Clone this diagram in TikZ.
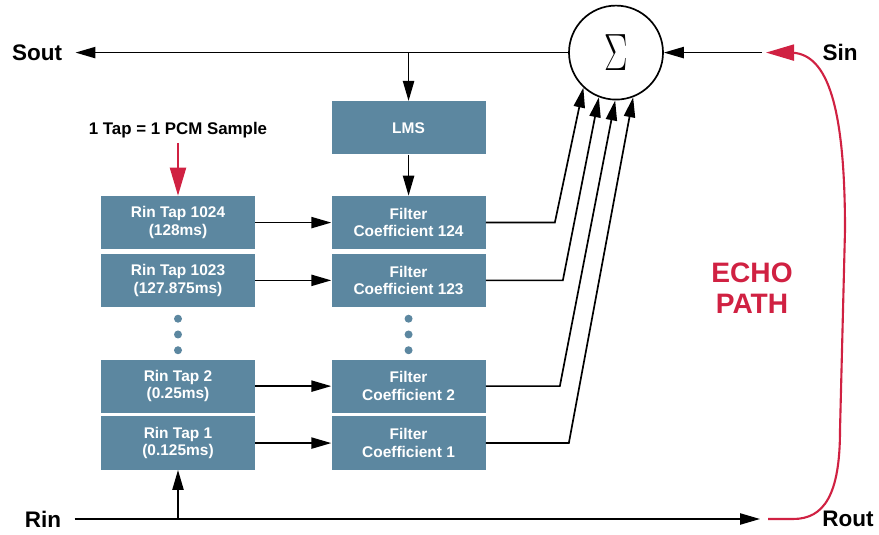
\documentclass[tikz,border=0pt]{standalone}
\usepackage{fontspec}
\setmainfont{Liberation Sans}
\usetikzlibrary{shapes,arrows.meta,positioning}
\definecolor{tapblue}{RGB}{92,135,160}
\definecolor{echored}{RGB}{208,33,66}

\begin{document}
\begin{tikzpicture}[node distance=1.5cm, auto]
% Define styles
\tikzstyle{tapbox} = [rectangle, minimum width=3.85cm, minimum height=1.33cm, inner sep=0pt, align=center, fill=tapblue, text=white, font=\fontsize{11}{12.5}\selectfont\bfseries]
\tikzstyle{port} = [font=\fontsize{16}{18}\selectfont\bfseries, inner xsep=0.33cm]
\tikzstyle{tapdot} = [circle, fill=tapblue, minimum size=0.2cm, inner sep=0pt]
\tikzstyle{arrow} = [line width=1.2pt, -{Triangle[length=5mm,width=2.8mm]}]
\tikzstyle{redarrow} = [line width=1.5pt, draw=echored, -{Triangle[length=7mm,width=4mm]}]

\useasboundingbox (0,0) rectangle (21.975,13.375);

% Create nodes
\node (sum) [circle, draw, line width=1.2pt, minimum size=2.35cm] at (15.4,12.06) {\scalebox{1}[1.5]{\fontsize{24}{24}\selectfont$\Sigma$}};
\node (sout) [port] at (0.925,12.06) {Sout};
\node (sin) [port] at (21.0,12.06) {Sin};
\node (rin) [port] at (1.075,0.4) {Rin};
\node (rout) [port] at (21.2,0.4) {Rout};

% Rin taps
\node (tap1024) [tapbox] at (4.45,7.81) {Rin Tap 1024\\(128ms)};
\node (tap1023) [tapbox, below=0.1cm of tap1024] {Rin Tap 1023\\(127.875ms)};
\node (tap2) [tapbox, below=1.3cm of tap1023] {Rin Tap 2\\(0.25ms)};
\node (tap1) [tapbox, below=0.08cm of tap2] {Rin Tap 1\\(0.125ms)};

% Filter coefficients
\node (f124) [tapbox, right=1.9cm of tap1024] {Filter\\Coefficient 124};
\node (f123) [tapbox, right=1.9cm of tap1023] {Filter\\Coefficient 123};
\node (f2) [tapbox, right=1.9cm of tap2] {Filter\\Coefficient 2};
\node (f1) [tapbox, right=1.9cm of tap1] {Filter\\Coefficient 1};
\node (lms) [tapbox, above=1.025cm of f124] {LMS};

% Dots
\node (ldota) [tapdot, below=0.18cm of tap1023] {};
\node (ldotb) [tapdot, below=0.18cm of ldota] {};
\node (ldotc) [tapdot, below=0.18cm of ldotb] {};
\node (rdota) [tapdot, below=0.18cm of f123] {};
\node (rdotb) [tapdot, below=0.18cm of rdota] {};
\node (rdotc) [tapdot, below=0.18cm of rdotb] {};

% Labels
\node (note) [font=\fontsize{12}{14}\selectfont\bfseries] at (4.45,10.125) {1 Tap = 1 PCM Sample};
\node (echo) [font=\fontsize{20}{22}\selectfont\bfseries, text=echored, align=center] at (18.8,6.175) {ECHO\\PATH};

% Free ends
\coordinate (sinend) at (19.05,12.06);
\coordinate (redtip) at (19.15,12.06);
\coordinate (routend) at (19.0,0.4);
\coordinate (redstart) at (19.2,0.4);

% Draw arrows
\draw [arrow] (sum) -- (sout);
\draw [arrow] (sinend) -- (sum);
\draw [arrow] (rin) -- (routend);
\draw [arrow] (tap1 |- rin) -- (tap1);
\draw [arrow] (lms |- sum) -- (lms);
\draw [arrow] (lms) -- (f124);
\draw [arrow] (tap1024) -- (f124);
\draw [arrow] (tap1023) -- (f123);
\draw [arrow] (tap2) -- (f2);
\draw [arrow] (tap1) -- (f1);
\draw [arrow] (f124.east) -- ++(1.725,0) -- (sum.-133);
\draw [arrow] (f123.east) -- ++(1.925,0) -- (sum.-111);
\draw [arrow] (f2.east) -- ++(1.85,0) -- (sum.-91);
\draw [arrow] (f1.east) -- ++(2.075,0) -- (sum.-69);
\draw [redarrow] (note) -- (tap1024);
\draw [redarrow] (redstart) -- (19.825,0.4) .. controls (20.6,0.4) and (21.0,1.0) .. (21.0,2.625) -- (21.125,7.625) .. controls (21.125,11.0) and (20.6,12.06) .. (19.75,12.06) -- (redtip);
\end{tikzpicture}
\end{document}
